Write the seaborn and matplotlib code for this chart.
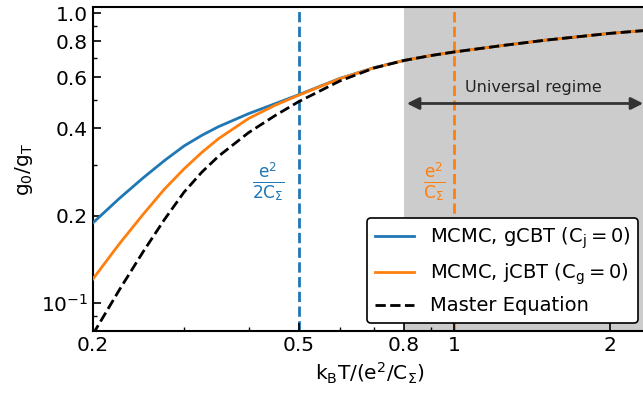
import numpy as np
import pandas as pd
import matplotlib
matplotlib.use('Agg')
import matplotlib.pyplot as plt
import seaborn as sns
from matplotlib.ticker import FixedLocator, NullFormatter

# Data
kT = [0.2, 0.225, 0.25, 0.275, 0.3, 0.325, 0.35, 0.4, 0.45, 0.5, 0.6, 0.7, 0.8, 0.9, 1.0, 1.25, 1.5, 2.0, 2.4]
g_gcbt = [0.189, 0.2295, 0.270, 0.310, 0.348, 0.379, 0.406, 0.450, 0.487, 0.523, 0.595, 0.649, 0.687, 0.714, 0.735, 0.775, 0.807, 0.852, 0.875]
g_jcbt = [0.121, 0.160, 0.202, 0.247, 0.290, 0.331, 0.369, 0.433, 0.481, 0.521, 0.594, 0.648, 0.687, 0.714, 0.735, 0.775, 0.807, 0.852, 0.875]
g_me = [0.078, 0.111, 0.150, 0.194, 0.241, 0.283, 0.321, 0.387, 0.443, 0.495, 0.583, 0.647, 0.687, 0.714, 0.735, 0.775, 0.807, 0.852, 0.875]

series = ['MCMC, gCBT ($C_j = 0$)', 'MCMC, jCBT ($C_g = 0$)', 'Master Equation']

x_major = [0.2, 0.5, 0.8, 1, 2]
x_major_labels = ['0.2', '0.5', '0.8', '1', '2']
x_minor = [0.3, 0.4, 0.6, 0.7, 0.9]
y_major = [0.1, 0.2, 0.4, 0.6, 0.8, 1.0]
y_major_labels = ['$10^{-1}$', '0.2', '0.4', '0.6', '0.8', '1.0']
y_minor = [0.09, 0.3, 0.5, 0.7, 0.9]

plt.rcParams['mathtext.default'] = 'regular'
plt.rcParams['font.size'] = 14.5

df = pd.DataFrame({
    'kT': kT * 3,
    'g': g_gcbt + g_jcbt + g_me,
    'series': [series[0]] * len(kT) + [series[1]] * len(kT) + [series[2]] * len(kT),
})

blue = '#1f77b4'
orange = '#ff7f0e'

fig = plt.figure(figsize=(6.43, 3.94), dpi=100)
ax = fig.add_axes([0.1446, 0.16, 0.86, 0.822])

ax.axvspan(0.8, 3, color='#cccccc', zorder=0, lw=0)
ax.axvline(0.5, color=blue, ls='--', lw=2, zorder=1)
ax.axvline(1.0, color=orange, ls='--', lw=2, zorder=1)

sns.lineplot(data=df[df['series'] == series[0]], x='kT', y='g', color=blue, lw=2, ax=ax, label=series[0], zorder=3)
sns.lineplot(data=df[df['series'] == series[1]], x='kT', y='g', color=orange, lw=2, ax=ax, label=series[1], zorder=3)
sns.lineplot(data=df[df['series'] == series[2]], x='kT', y='g', color='black', lw=2, ls='--', ax=ax, label=series[2], zorder=4)

ax.set_xscale('log')
ax.set_yscale('log')
ax.set_xlim(0.2, 2.35)
ax.set_ylim(0.08, 1.05)

ax.xaxis.set_major_locator(FixedLocator(x_major))
ax.set_xticklabels(x_major_labels)
ax.xaxis.set_minor_locator(FixedLocator(x_minor))
ax.xaxis.set_minor_formatter(NullFormatter())
ax.yaxis.set_major_locator(FixedLocator(y_major))
ax.set_yticklabels(y_major_labels)
ax.yaxis.set_minor_locator(FixedLocator(y_minor))
ax.yaxis.set_minor_formatter(NullFormatter())
ax.tick_params(which='both', direction='in')
ax.tick_params(which='major', length=6, width=1.2)
ax.tick_params(which='minor', length=3, width=1)
ax.spines['right'].set_visible(False)
for s in ['left', 'bottom', 'top']:
    ax.spines[s].set_linewidth(1.5)

ax.set_xlabel('$k_BT/(e^2/C_\\Sigma)$')
ax.set_ylabel('$g_0/g_T$')

# universal regime arrow
ax.annotate('', xy=(0.8, 0.488), xytext=(2.35, 0.488),
            arrowprops=dict(arrowstyle='<|-|>', color='#333333', lw=2, mutation_scale=18),
            annotation_clip=False, zorder=2)
ax.text(1.42, 0.52, 'Universal regime', ha='center', va='bottom', fontsize=11.5, color='#222222')

ax.text(0.47, 0.26, '$\\frac{e^2}{2C_\\Sigma}$', color=blue, ha='right', va='center', fontsize=17.5)
ax.text(0.958, 0.26, '$\\frac{e^2}{C_\\Sigma}$', color=orange, ha='right', va='center', fontsize=17.5)

leg = ax.legend(loc='lower right', frameon=True, fancybox=True, framealpha=1,
                edgecolor='black', fontsize=14, borderaxespad=0.4)
leg.get_frame().set_linewidth(1.2)
leg.set_zorder(5)

fig.savefig('out.png', dpi=100)
